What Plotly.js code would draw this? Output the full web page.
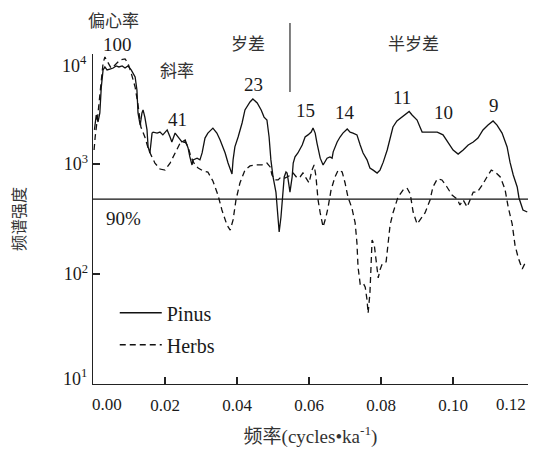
<!DOCTYPE html>
<html>
<head>
<meta charset="utf-8">
<script src="https://cdn.plot.ly/plotly-3.0.1.min.js"></script>
<style>html,body{margin:0;padding:0;background:#fff;}#chart{width:547px;height:453px;}</style>
</head>
<body>
<div id="chart"></div>
<script>
// ---- data (frequency in cycles/ka, spectral power) ----
const pinusFreq = [0.0004,0.0009,0.0014,0.0019,0.0023,0.0028,0.0033,0.0039,0.0047,0.0056,0.0064,0.0072,0.0081,0.0089,0.0097,0.0106,0.0117,0.0122,0.0125,0.0131,0.0136,0.0139,0.0144,0.015,0.0153,0.0158,0.0164,0.0167,0.0178,0.0186,0.0194,0.0206,0.0214,0.0219,0.0228,0.0236,0.0247,0.0256,0.0264,0.0269,0.0275,0.0278,0.0289,0.0297,0.0303,0.0311,0.0319,0.0333,0.0344,0.0353,0.0367,0.0375,0.0386,0.0389,0.0394,0.0403,0.0414,0.0422,0.0436,0.0444,0.0456,0.0467,0.0475,0.0483,0.0489,0.0494,0.05,0.0508,0.0514,0.0517,0.0522,0.0528,0.0531,0.0536,0.0539,0.0542,0.0547,0.0553,0.0556,0.0561,0.0569,0.0581,0.0589,0.0597,0.0606,0.0611,0.0617,0.0622,0.0631,0.0639,0.065,0.0658,0.0664,0.0667,0.0678,0.0686,0.0694,0.0706,0.0714,0.0722,0.0733,0.0742,0.075,0.0761,0.0769,0.0778,0.0789,0.0797,0.0806,0.0817,0.0825,0.0833,0.0844,0.0858,0.0872,0.0878,0.0886,0.09,0.0908,0.0914,0.0928,0.0956,0.0972,0.0986,0.1,0.1014,0.1028,0.1042,0.1056,0.1069,0.1083,0.1097,0.1111,0.1122,0.1136,0.115,0.1158,0.1167,0.1178,0.1183,0.1192,0.1194,0.1206];
const pinusPower = [2040,2790,2410,2910,5000,7160,7620,7160,7300,7460,7800,7620,7800,7460,7800,7160,6180,4710,2910,2260,2910,3100,2670,2040,1430,1260,1910,1950,1910,1950,1840,2040,1760,1585,1910,1760,1585,1650,1400,1160,980,1090,1130,1090,1260,1720,1910,2120,1910,1650,1260,1020,810,1090,1430,1760,2360,3100,3660,3900,3590,3100,2670,2510,1760,1090,762,556,330,241,330,580,762,846,828,716,556,762,1020,1160,1260,1490,1760,1840,1950,2120,1910,1550,1130,980,1130,1160,1130,1290,1585,1760,1910,2080,1950,1910,1840,1490,1260,1090,920,880,828,880,1040,1340,1760,2170,2460,2670,2910,3000,2790,2510,2170,1950,1950,1950,1840,1585,1340,1230,1340,1490,1585,1720,2040,2260,2460,2260,1910,1430,1040,794,618,491,406,382,366];

const herbsFreq = [0.0003,0.0006,0.0014,0.0022,0.0028,0.0033,0.0042,0.005,0.0061,0.0075,0.0089,0.0097,0.0106,0.0117,0.0125,0.0133,0.0144,0.0153,0.0161,0.0172,0.0186,0.02,0.0214,0.0228,0.0242,0.0256,0.0264,0.0272,0.0283,0.0292,0.0306,0.0319,0.0333,0.0347,0.0358,0.0372,0.0381,0.0389,0.0397,0.0408,0.0422,0.0436,0.045,0.0469,0.0483,0.0492,0.0497,0.0506,0.0514,0.0522,0.0533,0.0544,0.0556,0.0567,0.0575,0.0583,0.0594,0.06,0.0608,0.0614,0.0619,0.0625,0.0631,0.0639,0.0647,0.0653,0.0661,0.0672,0.0681,0.0692,0.07,0.0708,0.0719,0.0728,0.0733,0.0736,0.0742,0.075,0.0756,0.0761,0.0764,0.0769,0.0772,0.0775,0.0781,0.0786,0.0792,0.0797,0.0803,0.0814,0.0819,0.0825,0.0833,0.0847,0.0861,0.0872,0.0881,0.0889,0.09,0.0908,0.0922,0.0936,0.0944,0.0956,0.0969,0.0983,0.0997,0.1011,0.1019,0.1028,0.1039,0.1047,0.1056,0.1067,0.1081,0.1094,0.1106,0.1117,0.1131,0.1144,0.1153,0.1164,0.1172,0.1181,0.1192,0.12];
const herbsPower = [1340,1760,2910,5450,8280,9400,8280,7460,7940,8820,9010,8280,6720,5010,3450,2170,1760,1400,1210,1020,900,880,1020,1260,1550,1585,1430,1160,980,920,863,846,700,523,382,279,251,310,471,672,880,960,980,980,1020,940,794,716,716,762,746,778,828,746,762,828,716,672,880,980,778,471,359,268,330,406,580,762,880,846,672,501,398,291,191,116,81,83,76,58,44,67,116,204,185,129,92,109,123,129,191,279,359,501,580,605,534,366,285,310,359,471,618,731,716,618,523,481,424,471,406,471,556,556,644,762,880,846,762,592,406,285,182,140,111,126];

const seriesNames = ['Pinus', 'Herbs'];
const level90 = 480;              // 90% confidence level
const xTickVals = [0.02, 0.04, 0.06, 0.08, 0.10];
const xTickText = ['0.02', '0.04', '0.06', '0.08', '0.10'];
const xEdgeVals = [0.00, 0.12];
const xEdgeLabels = ['0.00', '0.12'];
const yTickVals = [100, 1000];
const yTickText = ['10<sup>2</sup>', '10<sup>3</sup>'];
const yEdgeVals = [10, 10000];
const yEdgeLabels = ['10<sup>1</sup>', '10<sup>4</sup>'];
const periodLabels = ['100', '41', '23', '15', '14', '11', '10', '9'];
const bandLabels = ['偏心率', '斜率', '岁差', '半岁差'];
const levelLabel = '90%';
const xTitle = '频率(cycles•ka<sup>-1</sup>)';
const yTitle = '频谱强度';

// ---- layout helpers (positions, styles) ----
const serif = 'Liberation Serif, Times New Roman, serif';
const cjk = 'Noto Sans CJK SC, sans-serif';
const ink = '#1a1a1a';
const periodPos = [[0.0069,1.030],[0.0236,0.803],[0.0447,0.909],[0.0589,0.830],[0.0700,0.824],[0.0858,0.867],[0.0972,0.824],[0.1114,0.845]];
const bandPos = [[0.0058,1.106],[0.0233,0.9545],[0.0431,1.036],[0.0889,1.036]];

function ann(text, x, y, xref, yref, font) {
  return {text: text, x: x, y: y, xref: xref, yref: yref, xanchor: 'center', yanchor: 'middle',
          showarrow: false, font: font};
}
const annotations = [];
periodLabels.forEach((t, i) => annotations.push(ann(t, periodPos[i][0], periodPos[i][1], 'x', 'paper',
  {family: serif, size: 19, color: ink})));
bandLabels.forEach((t, i) => annotations.push(ann(t, bandPos[i][0], bandPos[i][1], 'x', 'paper',
  {family: cjk, size: 17, color: '#333'})));
annotations.push(ann(levelLabel, 0.0086, 0.503, 'x', 'paper', {family: serif, size: 19, color: ink}));
// edge tick labels (nudged inward as in the original figure)
annotations.push(ann(xEdgeLabels[0], xEdgeVals[0] + 0.0039, -0.062, 'x', 'paper', {family: serif, size: 17, color: ink}));
annotations.push(ann(xEdgeLabels[1], xEdgeVals[1] - 0.0039, -0.062, 'x', 'paper', {family: serif, size: 17, color: ink}));
annotations.push({text: yEdgeLabels[0], x: 0, y: Math.log10(yEdgeVals[0]), xref: 'paper', yref: 'y',
  xanchor: 'right', yanchor: 'middle', xshift: -4, yshift: 7, showarrow: false,
  font: {family: serif, size: 18, color: ink}});
annotations.push({text: yEdgeLabels[1], x: 0, y: Math.log10(yEdgeVals[1]), xref: 'paper', yref: 'y',
  xanchor: 'right', yanchor: 'middle', xshift: -4, yshift: -10, showarrow: false,
  font: {family: serif, size: 18, color: ink}});

const traces = [
  {x: pinusFreq, y: pinusPower, name: seriesNames[0], type: 'scatter', mode: 'lines',
   legendgroup: 'a', line: {color: '#111', width: 1.3}},
  {x: herbsFreq, y: herbsPower, name: seriesNames[1], type: 'scatter', mode: 'lines',
   legendgroup: 'b', line: {color: '#111', width: 1.3, dash: '6px,4px'}}
];

const axisLine = {showgrid: false, zeroline: false, ticks: 'inside', ticklen: 7, tickwidth: 1.3, tickcolor: '#222'};

const layout = {
  width: 547, height: 453,
  margin: {l: 93, r: 19, t: 54, b: 69},
  paper_bgcolor: '#fff', plot_bgcolor: '#fff',
  showlegend: true,
  legend: {x: 0.05, y: 0.275, xanchor: 'left', yanchor: 'top', bgcolor: 'rgba(0,0,0,0)',
           font: {family: serif, size: 20, color: ink}, tracegroupgap: 3, itemwidth: 42,
           traceorder: 'grouped'},
  xaxis: Object.assign({}, axisLine, {
    range: [0, 0.1208], showline: true, linecolor: '#222', linewidth: 1.3,
    tickvals: xTickVals, ticktext: xTickText, ticklabelstandoff: 5,
    tickfont: {family: serif, size: 17, color: ink},
    title: {text: xTitle, font: {family: serif + ', ' + cjk, size: 19, color: '#333'}, standoff: 16}
  }),
  yaxis: Object.assign({}, axisLine, {
    type: 'log', range: [1, 4], showline: true, linecolor: '#222', linewidth: 1.3,
    tickvals: yTickVals, ticktext: yTickText,
    tickfont: {family: serif, size: 18, color: ink},
    title: {text: yTitle, font: {family: cjk, size: 16, color: '#333'}, standoff: 34}
  }),
  xaxis2: Object.assign({}, axisLine, {
    overlaying: 'x', anchor: 'y', side: 'bottom', range: [0, 0.1208], showline: false,
    tickvals: [xEdgeVals[1]], showticklabels: false
  }),
  yaxis2: Object.assign({}, axisLine, {
    overlaying: 'y', anchor: 'x', side: 'left', type: 'log', range: [1, 4], showline: false,
    tickvals: [yEdgeVals[1]], showticklabels: false
  }),
  shapes: [
    {type: 'line', xref: 'paper', yref: 'y', x0: 0, x1: 1, y0: level90, y1: level90,
     line: {color: '#111', width: 1.3}},
    {type: 'line', xref: 'x', yref: 'paper', x0: 0.0547, x1: 0.0547, y0: 0.885, y1: 1.094,
     line: {color: '#555', width: 1.5}}
  ],
  annotations: annotations
};

Plotly.newPlot('chart', traces, layout, {displayModeBar: false, staticPlot: true});
</script>
</body>
</html>
